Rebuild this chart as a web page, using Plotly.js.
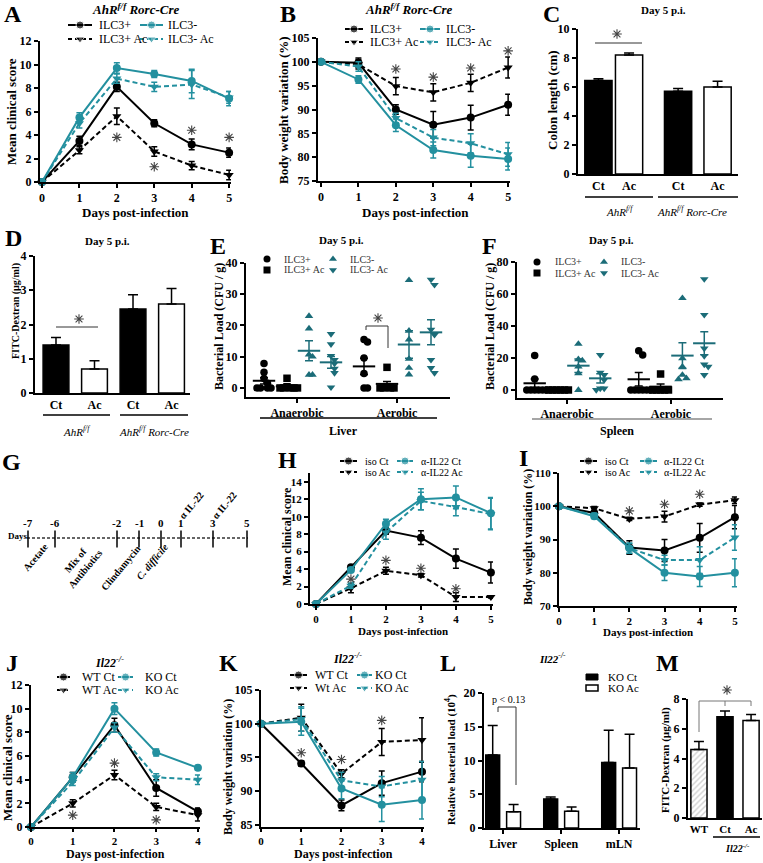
<!DOCTYPE html>
<html>
<head>
<meta charset="utf-8">
<script src="https://cdn.plot.ly/plotly-3.0.1.min.js"></script>
<style>html,body{margin:0;padding:0;background:#fff}</style>
</head>
<body>
<div id="chart" style="width:763px;height:863px"></div>
<script>
// ---------- DATOS ----------
var dias5 = [0, 1, 2, 3, 4, 5];
var dias4 = [0, 1, 2, 3, 4];

// A - puntaje clinico AhR f/f Rorc-Cre
var aIlc3p = [0, 3.5, 8.1, 5.0, 3.2, 2.5],     aIlc3pErr = [0, 0.4, 0.4, 0.3, 0.45, 0.4];
var aIlc3pAc = [0, 2.7, 5.6, 2.6, 1.4, 0.6],   aIlc3pAcErr = [0, 0.3, 0.7, 0.4, 0.35, 0.4];
var aIlc3m = [0, 5.5, 9.7, 9.2, 8.6, 7.1],     aIlc3mErr = [0, 0.4, 0.45, 0.3, 1.0, 0.6];
var aIlc3mAc = [0, 5.0, 8.8, 8.1, 8.3, 7.2],   aIlc3mAcErr = [0, 0.4, 0.4, 0.4, 1.2, 0.5];
var sigAx = [2, 3, 4, 5], sigAy = [3.8, 1.3, 4.4, 3.8];

// B - peso corporal
var bIlc3p = [100, 99.8, 90.0, 86.8, 88.3, 91.0],   bIlc3pErr = [0, 1, 1, 2.8, 2.6, 2.2];
var bIlc3pAc = [100, 99.5, 94.9, 93.6, 95.6, 98.8], bIlc3pAcErr = [0, 1, 1.8, 1.8, 1.8, 2.2];
var bIlc3m = [100, 96.3, 86.7, 81.5, 80.3, 79.6],   bIlc3mErr = [0, 0.8, 1.3, 1.7, 2.4, 2.3];
var bIlc3mAc = [100, 99.0, 88.2, 84.1, 82.9, 80.6], bIlc3mAcErr = [0, 1, 1, 1.7, 2, 2.5];
var sigBx = [2, 3, 4, 5], sigBy = [98.5, 96.8, 98.7, 102.3];

// C - largo de colon
var cLabels = ['Ct', 'Ac', 'Ct', 'Ac'];
var cVals = [6.45, 8.2, 5.7, 6.0];
var cErr = [0.12, 0.15, 0.2, 0.4];

// D - FITC dextran
var dLabels = ['Ct', 'Ac', 'Ct', 'Ac'];
var dVals = [1.4, 0.7, 2.45, 2.6];
var dErr = [0.22, 0.24, 0.42, 0.45];

// E - carga bacteriana higado [anaerobico, aerobico]
var eIlc3p   = [[7.8, 5, 3, 1.5, 0, 0, 0, 0], [15.5, 14.7, 9.6, 4.6, 0, 0]];
var eIlc3pAc = [[3.1, 0.4, 0, 0, 0, 0, 0], [6.6, 0.3, 0, 0, 0, 0]];
var eIlc3m   = [[23, 19, 10.7, 10, 4.2, 4.2], [34.5, 18.3, 15.5, 9.3, 6.4, 4.3]];
var eIlc3mAc = [[17.3, 14, 10.3, 9, 7.8, 6.2, 4.8, 0.2], [34.7, 33, 18.7, 17, 9, 6.4, 4.8]];
var eMedia = [[2.3, 0.5, 11.9, 8.2], [6.9, 1.3, 13.9, 17.8]];
var eSem   = [[1.0, 0.4, 3.2, 1.9], [2.6, 0.8, 4.4, 4.0]];

// F - carga bacteriana bazo
var fIlc3p   = [[21.5, 6.9, 0, 0, 0, 0, 0, 0], [24.6, 21.9, 0, 0, 0, 0, 0, 0]];
var fIlc3pAc = [[0, 0, 0, 0, 0, 0], [10, 0, 0, 0, 0, 0]];
var fIlc3m   = [[28.8, 19.2, 18.4, 14.6, 10.4, 0], [57.4, 19.8, 14.6, 9.4, 7.3, 6.7]];
var fIlc3mAc = [[21.9, 10.9, 9.4, 6.3, 1, 1, 0], [69.3, 47, 26, 21.3, 16, 14.6, 9.4]];
var fMedia = [[4.2, 0, 15.2, 7.3], [6.7, 2.1, 21.5, 29.2]];
var fSem   = [[2.7, 0, 4.2, 2.9], [4.2, 1.6, 8.0, 7.2]];
var cultivos = ['Anaerobic', 'Aerobic'];

// G - esquema temporal
var gDias = ['-7', '-6', '-2', '-1', '0', '1', '3', '5'];

// H - puntaje clinico anti-IL22
var hIsoCt = [0, 4.2, 8.4, 7.6, 5.2, 3.6],    hIsoCtErr = [0, 0.15, 0.4, 0.8, 1.1, 1.2];
var hIsoAc = [0, 1.8, 3.8, 3.3, 0.8, 0.8],    hIsoAcErr = [0, 0.5, 0.4, 0.2, 0.5, 0.1];
var hAbCt = [0, 3.9, 9.2, 12.0, 12.2, 10.4],  hAbCtErr = [0, 0.2, 0.5, 1.2, 1.3, 1.8];
var hAbAc = [0, 2.1, 8.2, 11.8, 11.1, 10.3],  hAbAcErr = [0, 0.3, 0.8, 1.0, 1.0, 1.8];
var sigHx = [1, 2, 3, 4], sigHy = [2.85, 5.0, 4.1, 1.75];

// I - peso anti-IL22
var iIsoCt = [100, 98, 87.6, 86.7, 90.5, 96.7],   iIsoCtErr = [0, 1.5, 2, 3.3, 4.3, 3.5];
var iIsoAc = [100, 99.4, 96.2, 96.9, 100.5, 101.8], iIsoAcErr = [0, 0.5, 0.5, 1.6, 0.5, 1];
var iAbCt = [100, 97, 87.4, 80, 78.9, 80],        iAbCtErr = [0, 0.7, 1.5, 2.3, 3, 4.2];
var iAbAc = [100, 97.3, 87.4, 83.8, 83.8, 90.6],  iAbAcErr = [0, 0.7, 1.5, 1.5, 4, 3.8];
var sigIx = [2, 3, 4], sigIy = [98.6, 100.6, 103.6];

// J - puntaje Il22-/-
var jWtCt = [0, 4.2, 8.6, 3.3, 1.3], jWtCtErr = [0, 0.4, 0.6, 0.7, 0.3];
var jWtAc = [0, 2.0, 4.4, 1.7, 1.0], jWtAcErr = [0, 0.3, 0.4, 0.3, 0.5];
var jKoCt = [0, 4.2, 10.0, 6.3, 5.0], jKoCtErr = [0, 0.4, 0.5, 0.3, 0.2];
var jKoAc = [0, 3.8, 8.4, 4.2, 4.0], jKoAcErr = [0, 0.3, 0.4, 0.3, 0.4];
var sigJx = [1, 2, 3], sigJy = [1.0, 5.4, 0.6];

// K - peso Il22-/-
var kWtCt = [100, 94.1, 87.9, 91.2, 92.9], kWtCtErr = [0, 0.4, 0.8, 1.8, 1.5];
var kWtAc = [100, 100.9, 92.6, 97.3, 97.6], kWtAcErr = [0, 2, 0.6, 2, 3.3];
var kKoCt = [100, 100.3, 90.4, 88.0, 88.7], kKoCtErr = [0, 2, 1.5, 2.5, 2.8];
var kKoAc = [100, 100.7, 91.6, 90.7, 91.7], kKoAcErr = [0, 1.8, 1.2, 1.5, 2.7];
var sigKx = [1, 2, 3], sigKy = [95.7, 94.7, 100.5];

// L - carga bacteriana relativa
var lOrganos = ['Liver', 'Spleen', 'mLN'];
var lKoCt = [10.8, 4.3, 9.7], lKoCtErr = [4.4, 0.3, 4.8];
var lKoAc = [2.4, 2.5, 8.9],  lKoAcErr = [1.1, 0.6, 5.0];

// M - FITC dextran Il22-/-
var mLabels = ['WT', 'Ct', 'Ac'];
var mVals = [4.6, 6.8, 6.55];
var mErr = [0.55, 0.4, 0.4];

// ---------- ESTILO ----------
var W = 763, H = 863;
var SERIF = 'Liberation Serif, Times New Roman, serif';
var TEAL = '#23909f';
var TEALD = '#1b6c78';
var GRIS = '#444';
var traces = [];
var layout = {
  width: W, height: H, margin: {l: 0, r: 0, t: 0, b: 0},
  paper_bgcolor: 'white', plot_bgcolor: 'rgba(0,0,0,0)',
  showlegend: false, font: {family: SERIF, color: 'black'},
  annotations: [], shapes: []
};

function sfx(n) { return n === 1 ? '' : String(n); }
function fuente(size) { return {family: SERIF, size: size, color: 'black', weight: 'bold'}; }

function ejes(n, px0, px1, py0, py1, xr, yr, xo, yo) {
  var base = {
    showline: true, linecolor: 'black', linewidth: 2, ticks: 'outside', ticklen: 4,
    tickwidth: 2, tickcolor: 'black', showgrid: false, zeroline: false,
    tickfont: fuente(12), fixedrange: true, automargin: false
  };
  layout['xaxis' + sfx(n)] = Object.assign({}, base, {domain: [px0 / W, px1 / W], range: xr, anchor: 'y' + sfx(n)}, xo || {});
  layout['yaxis' + sfx(n)] = Object.assign({}, base, {domain: [1 - py1 / H, 1 - py0 / H], range: yr, anchor: 'x' + sfx(n)}, yo || {});
}

function txt(x, y, s, size, o) {
  layout.annotations.push(Object.assign({
    xref: 'paper', yref: 'paper', x: x / W, y: 1 - y / H, text: s, showarrow: false,
    font: {family: SERIF, size: size, color: 'black'}, xanchor: 'center', yanchor: 'middle'
  }, o || {}));
}

function linea(x0, y0, x1, y1, color, w) {
  layout.shapes.push({type: 'line', xref: 'paper', yref: 'paper',
    x0: x0 / W, y0: 1 - y0 / H, x1: x1 / W, y1: 1 - y1 / H,
    line: {color: color || 'black', width: w || 1.5}});
}

function serie(n, x, y, e, color, dash, sym) {
  traces.push({
    type: 'scatter', mode: 'lines+markers', x: x, y: y, xaxis: 'x' + sfx(n), yaxis: 'y' + sfx(n),
    cliponaxis: false, hoverinfo: 'skip',
    line: {color: color, width: 2, dash: dash ? '5px,3px' : 'solid'},
    marker: {symbol: sym, size: 8, color: color},
    error_y: {type: 'data', array: e, visible: true, color: color, thickness: 1.5, width: 3}
  });
}

// asteriscos de significancia como marcadores
function asteriscos(n, xs, ys) {
  traces.push({type: 'scatter', mode: 'markers', x: xs, y: ys, xaxis: 'x' + sfx(n), yaxis: 'y' + sfx(n),
    cliponaxis: false, hoverinfo: 'skip',
    marker: {symbol: 'asterisk-open', size: 8, color: GRIS, line: {color: GRIS, width: 1.1}}});
}

// muestras de leyenda en el eje superpuesto (pixeles)
function muestra(x0, x1, y, color, dash, sym, label, tx, size) {
  traces.push({
    type: 'scatter', mode: 'lines+markers', x: [x0, (x0 + x1) / 2, x1], y: [y, y, y],
    xaxis: 'x13', yaxis: 'y13', cliponaxis: false, hoverinfo: 'skip',
    line: {color: color, width: 2, dash: dash ? '4px,3px' : 'solid'},
    marker: {symbol: sym, size: [0, 8, 0], color: color}
  });
  txt(tx, y, label, size, {xanchor: 'left'});
}

function leyendaLineas(rows, c1, c2, labels, size) {
  muestra(c1[0], c1[1], rows[0], 'black', false, 'circle', labels[0], c1[2], size);
  muestra(c1[0], c1[1], rows[1], 'black', true, 'triangle-down', labels[1], c1[2], size);
  muestra(c2[0], c2[1], rows[0], TEAL, false, 'circle', labels[2], c2[2], size);
  muestra(c2[0], c2[1], rows[1], TEAL, true, 'triangle-down', labels[3], c2[2], size);
}

function barras(n, x, y, e, colores, ancho, extra) {
  traces.push(Object.assign({
    type: 'bar', x: x, y: y, width: ancho, xaxis: 'x' + sfx(n), yaxis: 'y' + sfx(n),
    hoverinfo: 'skip', cliponaxis: false,
    marker: {color: colores, line: {color: 'black', width: 1.5}},
    error_y: {type: 'data', symmetric: false, array: e, arrayminus: e.map(function () { return 0; }),
      visible: true, color: 'black', thickness: 1.5, width: 5}
  }, extra || {}));
}

function jitter(vals, ySc, paso) {
  var puestos = [], out = [];
  vals.forEach(function (v) {
    var cerca = puestos.filter(function (p) { return Math.abs(p - v) * ySc < 6; }).length;
    var k = cerca === 0 ? 0 : (cerca % 2 ? 1 : -1) * Math.ceil(cerca / 2);
    out.push(k * paso);
    puestos.push(v);
  });
  return out;
}

function puntos(n, centro, vals, media, sem, color, sym, paso, ySc) {
  var j = jitter(vals, ySc, paso);
  traces.push({type: 'scatter', mode: 'markers', xaxis: 'x' + sfx(n), yaxis: 'y' + sfx(n),
    x: vals.map(function (v, i) { return centro + j[i]; }), y: vals, cliponaxis: false, hoverinfo: 'skip',
    marker: {symbol: sym, size: 7.5, color: color}});
  traces.push({type: 'scatter', mode: 'markers', xaxis: 'x' + sfx(n), yaxis: 'y' + sfx(n),
    x: [centro], y: [media], cliponaxis: false, hoverinfo: 'skip',
    marker: {symbol: 'line-ew', size: 16, color: color, line: {color: color, width: 2}},
    error_y: {type: 'data', array: [sem], visible: true, color: color, thickness: 1.5, width: 4}});
}

var AhR = '<i>AhR<sup>f/f</sup></i>';
var AhRCre = '<i>AhR<sup>f/f</sup> Rorc-Cre</i>';
var Il22 = '<i>Il22<sup>-/-</sup></i>';

// ---------- A ----------
ejes(1, 40, 231, 41, 182, [-0.053, 5.05], [0, 12], {tickvals: dias5}, {dtick: 2});
serie(1, dias5, aIlc3p, aIlc3pErr, 'black', false, 'circle');
serie(1, dias5, aIlc3pAc, aIlc3pAcErr, 'black', true, 'triangle-down');
serie(1, dias5, aIlc3m, aIlc3mErr, TEAL, false, 'circle');
serie(1, dias5, aIlc3mAc, aIlc3mAcErr, TEAL, true, 'triangle-down');
asteriscos(1, sigAx, sigAy);
leyendaLineas([25, 39], [68, 92, 97], [140, 163, 166], ['ILC3+', 'ILC3+ Ac', 'ILC3-', 'ILC3- Ac'], 12);
txt(13, 14, '<b>A</b>', 24);
txt(135, 9, '<b>' + AhRCre + '</b>', 13);
txt(12, 112, '<b>Mean clinical score</b>', 13, {textangle: -90});
txt(135, 212, '<b>Days post-infection</b>', 13);

// ---------- B ----------
ejes(2, 318, 510, 38, 181, [-0.08, 5.05], [75, 105], {tickvals: dias5}, {dtick: 5});
serie(2, dias5, bIlc3p, bIlc3pErr, 'black', false, 'circle');
serie(2, dias5, bIlc3pAc, bIlc3pAcErr, 'black', true, 'triangle-down');
serie(2, dias5, bIlc3m, bIlc3mErr, TEAL, false, 'circle');
serie(2, dias5, bIlc3mAc, bIlc3mAcErr, TEAL, true, 'triangle-down');
asteriscos(2, sigBx, sigBy);
leyendaLineas([29, 42], [345, 363, 368], [420, 440, 444], ['ILC3+', 'ILC3+ Ac', 'ILC3-', 'ILC3- Ac'], 12);
txt(288, 14, '<b>B</b>', 24);
txt(408, 9, '<b>' + AhRCre + '</b>', 13);
txt(283, 110, '<b>Body weight variation (%)</b>', 13, {textangle: -90});
txt(415, 212, '<b>Days post-infection</b>', 13);

// ---------- C ----------
var cPos = [0, 0.9, 2.34, 3.5];
ejes(3, 578, 738, 29, 174, [-0.6, 4.1], [0, 10], {tickvals: cPos, ticktext: cLabels, ticks: ''}, {dtick: 2});
barras(3, cPos, cVals, cErr, ['black', 'white', 'black', 'white'], 0.8);
txt(551, 14, '<b>C</b>', 24);
txt(663, 10, '<b>Day 5 p.i.</b>', 11);
txt(553, 100, '<b>Colon length (cm)</b>', 13, {textangle: -90});
linea(595, 43, 642, 43, '#333', 1);
linea(585, 197, 653, 197, 'black', 1.5);
linea(658, 197, 738, 197, 'black', 1.5);
txt(620, 211, AhR, 11);
txt(692, 211, AhRCre, 11);

// ---------- D ----------
var dPos = [0, 1, 2, 3];
ejes(4, 35, 190, 256, 393, [-0.545, 3.48], [0, 4], {tickvals: dPos, ticktext: dLabels, ticks: ''}, {dtick: 1});
barras(4, dPos, dVals, dErr, ['black', 'white', 'black', 'white'], 0.67);
txt(13, 238, '<b>D</b>', 24);
txt(107, 241, '<b>Day 5 p.i.</b>', 11);
txt(16, 311, '<b>FITC-Dextran (µg/ml)</b>', 10, {textangle: -90});
linea(56, 327, 98, 327, '#333', 1);
linea(43, 415, 110, 415, 'black', 1.5);
linea(120, 415, 188, 415, 'black', 1.5);
txt(77, 431, AhR, 11);
txt(154, 431, AhRCre, 11);

// ---------- E / F ----------
function panelPuntos(n, grupos, medias, sems, offs, paso, ySc) {
  var simb = ['circle', 'square', 'triangle-up', 'triangle-down'];
  var col = ['black', 'black', TEALD, TEALD];
  for (var c = 0; c < 2; c++) {
    for (var g = 0; g < 4; g++) {
      puntos(n, c + 1 + offs[g], grupos[g][c], medias[c][g], sems[c][g], col[g], simb[g], paso, ySc);
    }
  }
}
ejes(5, 246, 450, 263, 397, [0.49, 2.53], [-2.9, 40], {tickvals: [1, 2], ticktext: cultivos}, {tickvals: [0, 10, 20, 30, 40]});
panelPuntos(5, [eIlc3p, eIlc3pAc, eIlc3m, eIlc3mAc], eMedia, eSem, [-0.33, -0.1, 0.12, 0.34], 0.035, 3.125);
txt(218, 246, '<b>E</b>', 24);
txt(341, 240, '<b>Day 5 p.i.</b>', 11);
txt(219, 327, '<b>Bacterial Load (CFU / g)</b>', 12, {textangle: -90});
linea(366, 330, 366, 326, '#333', 1);
linea(366, 326, 388, 326, '#333', 1);
linea(388, 326, 388, 348, '#333', 1);
linea(260, 418, 437, 418, 'black', 1.5);
txt(343, 431, '<b>Liver</b>', 12);

ejes(6, 517, 723, 262, 398, [0.52, 2.5], [-5, 80], {tickvals: [1, 2], ticktext: cultivos}, {tickvals: [0, 20, 40, 60, 80]});
panelPuntos(6, [fIlc3p, fIlc3pAc, fIlc3m, fIlc3mAc], fMedia, fSem, [-0.31, -0.1, 0.11, 0.32], 0.038, 1.6);
txt(489, 246, '<b>F</b>', 24);
txt(611, 240, '<b>Day 5 p.i.</b>', 11);
txt(490, 327, '<b>Bacterial Load (CFU / g)</b>', 12, {textangle: -90});
linea(532, 419, 712, 419, '#888', 1.5);
txt(617, 431, '<b>Spleen</b>', 12);

// leyendas E y F (solo marcadores)
function leyendaPuntos(rows, mx, tx, size) {
  var simb = ['circle', 'square', 'triangle-up', 'triangle-down'];
  var col = ['black', 'black', TEALD, TEALD];
  var lab = ['ILC3+', 'ILC3+ Ac', 'ILC3-', 'ILC3- Ac'];
  for (var g = 0; g < 4; g++) {
    var c = g < 2 ? 0 : 1, r = g % 2;
    traces.push({type: 'scatter', mode: 'markers', x: [mx[c]], y: [rows[r]], xaxis: 'x13', yaxis: 'y13',
      hoverinfo: 'skip', marker: {symbol: simb[g], size: 7, color: col[g]}});
    txt(tx[c], rows[r], lab[g], size, {xanchor: 'left', font: {family: SERIF, size: size, color: '#333'}});
  }
}
leyendaPuntos([259, 270], [267, 333], [282, 348], 10);
leyendaPuntos([262, 273], [537, 604], [553, 619], 10);

// ---------- G ----------
var gX = [28, 55, 117, 139, 161, 181, 213, 247];
traces.push({type: 'scatter', mode: 'lines', x: [27, 248], y: [538, 538], xaxis: 'x13', yaxis: 'y13',
  hoverinfo: 'skip', line: {color: '#333', width: 1.5, dash: '3px,2px'}});
traces.push({type: 'scatter', mode: 'markers', x: gX, y: gX.map(function () { return 539; }), xaxis: 'x13', yaxis: 'y13',
  hoverinfo: 'skip', marker: {symbol: 'line-ns', size: 12, line: {color: 'black', width: 1.5}}});
gDias.forEach(function (d, i) { txt(gX[i], 523, '<b>' + d + '</b>', 11); });
txt(11, 462, '<b>G</b>', 24);
txt(18, 536, '<b>Days</b>', 9);
txt(35, 557, '<b>Acetate</b>', 10, {textangle: -50});
txt(80, 565, '<b>Mix of<br>Antibiotics</b>', 10, {textangle: -50});
txt(120, 568, '<b>Clindamycin</b>', 10, {textangle: -50});
txt(152, 561, '<b><i>C. difficile</i></b>', 10, {textangle: -50});
txt(191, 505, '<b>α IL-22</b>', 10, {textangle: -50});
txt(224, 505, '<b>α IL-22</b>', 10, {textangle: -50});

// ---------- H ----------
ejes(7, 310, 493, 473, 604, [-0.17, 5.06], [0, 15], {tickvals: dias5, tickfont: fuente(11)},
  {tickvals: [0, 2, 4, 6, 8, 10, 12, 14], tickfont: fuente(11)});
serie(7, dias5, hIsoCt, hIsoCtErr, 'black', false, 'circle');
serie(7, dias5, hIsoAc, hIsoAcErr, 'black', true, 'triangle-down');
serie(7, dias5, hAbCt, hAbCtErr, TEAL, false, 'circle');
serie(7, dias5, hAbAc, hAbAcErr, TEAL, true, 'triangle-down');
asteriscos(7, sigHx, sigHy);
leyendaLineas([461, 472], [340, 357, 363], [397, 413, 419], ['iso Ct', 'iso Ac', 'α-IL22 Ct', 'α-IL22 Ac'], 10);
txt(287, 460, '<b>H</b>', 24);
txt(287, 537, '<b>Mean clinical score</b>', 12, {textangle: -90});
txt(403, 631, '<b>Days post-infection</b>', 11);

// ---------- I ----------
ejes(8, 559, 737, 473, 606, [0, 5.06], [70, 110], {tickvals: dias5, tickfont: fuente(11)},
  {dtick: 10, tickfont: fuente(11)});
serie(8, dias5, iIsoCt, iIsoCtErr, 'black', false, 'circle');
serie(8, dias5, iIsoAc, iIsoAcErr, 'black', true, 'triangle-down');
serie(8, dias5, iAbCt, iAbCtErr, TEAL, false, 'circle');
serie(8, dias5, iAbAc, iAbAcErr, TEAL, true, 'triangle-down');
asteriscos(8, sigIx, sigIy);
leyendaLineas([461, 472], [580, 597, 603], [640, 657, 662], ['iso Ct', 'iso Ac', 'α-IL22 Ct', 'α-IL22 Ac'], 10);
txt(523, 458, '<b>I</b>', 24);
txt(528, 537, '<b>Body weight variation (%)</b>', 12, {textangle: -90});
txt(648, 632, '<b>Days post-infection</b>', 11);

// ---------- J ----------
ejes(9, 31, 200, 685, 827, [0, 4.05], [0, 12], {tickvals: dias4, ticklen: 3, tickfont: fuente(11)}, {dtick: 2});
serie(9, dias4, jWtCt, jWtCtErr, 'black', false, 'circle');
serie(9, dias4, jWtAc, jWtAcErr, 'black', true, 'triangle-down');
serie(9, dias4, jKoCt, jKoCtErr, TEAL, false, 'circle');
serie(9, dias4, jKoAc, jKoAcErr, TEAL, true, 'triangle-down');
asteriscos(9, sigJx, sigJy);
leyendaLineas([677, 690], [57, 70, 80], [118, 133, 143], ['WT Ct', 'WT Ac', 'KO Ct', 'KO Ac'], 12);
txt(12, 663, '<b>J</b>', 24);
txt(110, 662, '<b>' + Il22 + '</b>', 12);
txt(7, 768, '<b>Mean clinical score</b>', 13, {textangle: -90});
txt(115, 854, '<b>Days post-infection</b>', 12);

// ---------- K ----------
ejes(10, 261, 424, 690, 827, [0, 4.05], [84.7, 105], {tickvals: dias4, ticklen: 3, tickfont: fuente(11)}, {tickvals: [85, 90, 95, 100, 105]});
serie(10, dias4, kWtCt, kWtCtErr, 'black', false, 'circle');
serie(10, dias4, kWtAc, kWtAcErr, 'black', true, 'triangle-down');
serie(10, dias4, kKoCt, kKoCtErr, TEAL, false, 'circle');
serie(10, dias4, kKoAc, kKoAcErr, TEAL, true, 'triangle-down');
asteriscos(10, sigKx, sigKy);
leyendaLineas([675, 688], [290, 307, 313], [357, 372, 373], ['WT Ct', 'Wt Ac', 'KO Ct', 'KO Ac'], 12);
txt(228, 663, '<b>K</b>', 24);
txt(347, 658, '<b>' + Il22 + '</b>', 12);
txt(228, 767, '<b>Body weight variation (%)</b>', 12, {textangle: -90});
txt(343, 854, '<b>Days post-infection</b>', 12);

// ---------- L ----------
var lPos = [0, 1, 2];
ejes(11, 484, 640, 693, 828, [-0.33, 2.36], [0, 20], {tickvals: lPos, ticktext: lOrganos}, {dtick: 5});
barras(11, lPos.map(function (p) { return p - 0.18; }), lKoCt, lKoCtErr, 'black', 0.24);
barras(11, lPos.map(function (p) { return p + 0.18; }), lKoAc, lKoAcErr, 'white', 0.24);
txt(448, 663, '<b>L</b>', 24);
txt(552, 658, '<b>' + Il22 + '</b>', 11);
txt(450, 760, '<b>Relative bacterial load (10<sup>4</sup>)</b>', 11, {textangle: -90});
linea(498, 712, 498, 707, '#333', 1);
linea(498, 707, 516, 707, '#333', 1);
linea(516, 707, 516, 785, '#333', 1);
txt(508, 699, 'p < 0.13', 10);
layout.shapes.push({type: 'rect', xref: 'paper', yref: 'paper', x0: 586 / W, x1: 598 / W, y0: 1 - 680 / H, y1: 1 - 674 / H,
  fillcolor: 'black', line: {color: 'black', width: 1}});
layout.shapes.push({type: 'rect', xref: 'paper', yref: 'paper', x0: 586 / W, x1: 598 / W, y0: 1 - 691 / H, y1: 1 - 685 / H,
  fillcolor: 'white', line: {color: 'black', width: 1.5}});
txt(606, 677, 'KO Ct', 11, {xanchor: 'left'});
txt(606, 688, 'KO Ac', 11, {xanchor: 'left'});

// ---------- M ----------
var mPos = [0, 1, 2];
ejes(12, 688, 762, 699, 818, [-0.42, 2.42], [0, 8], {tickvals: mPos, ticktext: mLabels, ticks: '', tickfont: fuente(11)}, {dtick: 2});
barras(12, mPos, mVals, mErr, ['#d0d0d0', 'black', 'white'], 0.62,
  {marker: {color: ['#d0d0d0', 'black', 'white'], line: {color: 'black', width: 1.5},
    pattern: {shape: ['/', '', ''], fgcolor: '#555', size: 4, solidity: 0.35}}});
txt(667, 663, '<b>M</b>', 24);
txt(665, 760, '<b>FITC-Dextran (µg/ml)</b>', 11, {textangle: -90});
linea(699, 732, 699, 701, '#777', 1);
linea(699, 701, 751, 701, '#777', 1);
linea(725, 701, 725, 706, '#777', 1);
linea(751, 701, 751, 706, '#777', 1);
linea(713, 837, 760, 837, 'black', 1.5);
txt(737, 848, '<b>' + Il22 + '</b>', 10);

// asteriscos sobre corchetes (pixeles)
var corcheteX = [617, 79, 378, 727];
var corcheteY = [34, 319, 318, 690];
asteriscos(13, corcheteX, corcheteY);

// eje superpuesto en pixeles para leyendas y esquema
layout.xaxis13 = {domain: [0, 1], range: [0, W], visible: false, fixedrange: true, anchor: 'y13'};
layout.yaxis13 = {domain: [0, 1], range: [H, 0], visible: false, fixedrange: true, anchor: 'x13'};

Plotly.newPlot('chart', traces, layout, {staticPlot: true, displayModeBar: false});
</script>
</body>
</html>
